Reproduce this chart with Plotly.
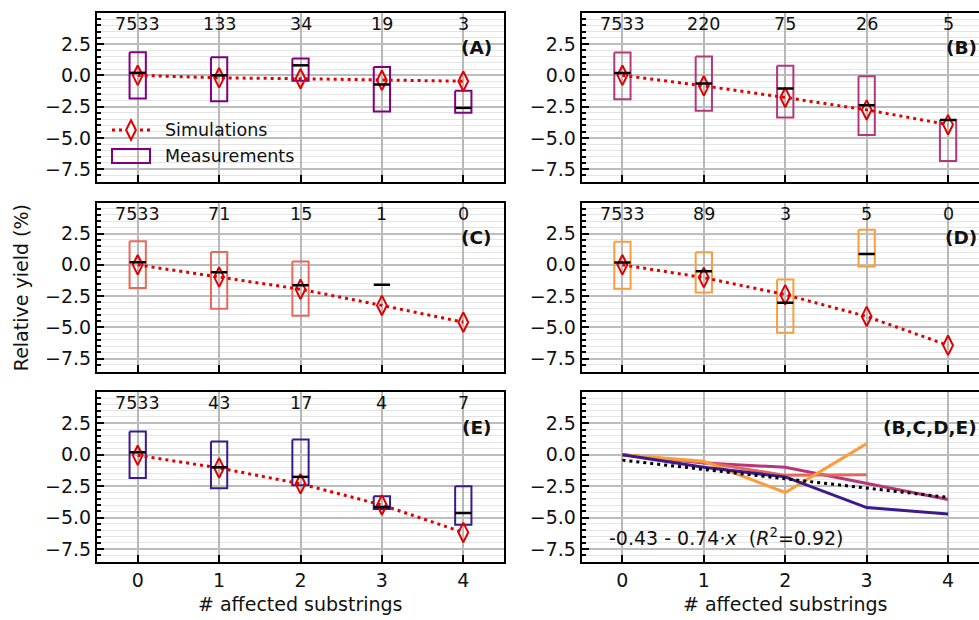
import plotly.graph_objects as go

# ---------------------------------------------------------------- data
x_vals = [0, 1, 2, 3, 4]

# number of strings behind each measurement group
counts_A = [7533, 133, 34, 19, 3]
counts_B = [7533, 220, 75, 26, 5]
counts_C = [7533, 71, 15, 1, 0]
counts_D = [7533, 89, 3, 5, 0]
counts_E = [7533, 43, 17, 4, 7]

# measured relative yield: upper / lower quartile and median (%)
q_hi_A = [1.85, 1.45, 1.34, 0.67, -1.24]
q_lo_A = [-1.85, -2.07, -0.43, -2.88, -2.98]
med_A = [0.20, 0.00, 0.80, -0.73, -2.60]

q_hi_B = [1.82, 1.50, 0.76, -0.08, -3.56]
q_lo_B = [-1.90, -2.83, -3.37, -4.76, -6.85]
med_B = [0.19, -0.65, -1.06, -2.39, -3.56]

q_hi_C = [1.88, 1.02, 0.27, None, None]
q_lo_C = [-1.85, -3.50, -4.06, None, None]
med_C = [0.20, -0.60, -1.64, -1.59, None]

q_hi_D = [1.85, 1.00, -1.17, 2.80, None]
q_lo_D = [-1.90, -2.20, -5.43, -0.14, None]
med_D = [0.19, -0.52, -3.02, 0.87, None]

q_hi_E = [1.84, 1.04, 1.20, -3.30, -2.50]
q_lo_E = [-1.84, -2.66, -2.42, -4.31, -5.56]
med_E = [0.19, -1.00, -1.76, -4.15, -4.63]

# simulated relative yield (%)
sim_A = [0.00, -0.20, -0.27, -0.40, -0.47]
sim_B = [0.00, -0.84, -1.77, -2.76, -3.94]
sim_C = [0.00, -0.98, -1.95, -3.24, -4.58]
sim_D = [0.00, -1.02, -2.38, -4.12, -6.43]
sim_E = [-0.05, -1.05, -2.31, -3.99, -6.17]

# median trends of the B..E groups, first point pinned to zero
trend_B = [0.00, -0.65, -1.00, -2.30, -3.55]
trend_C = [0.00, -0.60, -1.64, -1.59, None]
trend_D = [0.00, -0.52, -3.00, 0.88, None]
trend_E = [0.00, -1.00, -1.76, -4.20, -4.70]

# linear fit across B..E
fit_intercept = -0.43
fit_slope = -0.74
fit_r2 = 0.92

y_ticks = [-7.5, -5.0, -2.5, 0.0, 2.5]

# ---------------------------------------------------------------- style
FONT = "DejaVu Sans"
SIM_RED = "#e00000"
col_A = "#800080"
col_B = "#b5367a"
col_C = "#e6695b"
col_D = "#fa9d3a"
col_E = "#3b1a8c"
BW = 0.1  # half-width of a box

W, H = 979, 620
ML, MR, MT, MB = 97, 0, 13, 58
PW, PH = W - ML - MR, H - MT - MB

row_px = [(0, 169), (189.5, 358.5), (379, 549)]  # from top of plot area
y_dom = [[(PH - b) / PH, (PH - t) / PH] for t, b in row_px]
y_dom = [[max(0, a), min(1, b)] for a, b in y_dom]
x_dom = [[0, 407 / PW], [484.7 / PW, 1]]

fig = go.Figure()

panels = [
    ("(A)", counts_A, q_hi_A, q_lo_A, med_A, sim_A, col_A),
    ("(B)", counts_B, q_hi_B, q_lo_B, med_B, sim_B, col_B),
    ("(C)", counts_C, q_hi_C, q_lo_C, med_C, sim_C, col_C),
    ("(D)", counts_D, q_hi_D, q_lo_D, med_D, sim_D, col_D),
    ("(E)", counts_E, q_hi_E, q_lo_E, med_E, sim_E, col_E),
]


def axis_names(i):
    n = "" if i == 1 else str(i)
    return "x" + n, "y" + n, "xaxis" + n, "yaxis" + n


def style_axes(i, col, row):
    xr, yr, xa, ya = axis_names(i)
    left = col == 0
    bottom = row == 2
    fig.layout[xa] = dict(
        domain=x_dom[col], anchor=yr,
        range=[-0.5, 4.5 if left else 4.38],
        tickmode="array", tickvals=x_vals,
        ticks="inside", ticklen=7, tickwidth=1.5, tickcolor="black",
        showline=True, linecolor="black", linewidth=2, mirror=True,
        showgrid=True, gridcolor="#b8b8b8", gridwidth=1.5,
        zeroline=False, showticklabels=bottom,
        tickfont=dict(family=FONT, size=19, color="#111"),
    )
    fig.layout[ya] = dict(
        domain=y_dom[row], anchor=xr,
        range=[-8.52, 4.98],
        tickmode="linear", tick0=0, dtick=2.5, tickformat=".1f",
        ticks="inside", ticklen=7, tickwidth=1.5, tickcolor="black",
        showline=True, linecolor="black", linewidth=2, mirror=left,
        showgrid=True, gridcolor="#bdbdbd", gridwidth=1.5,
        zeroline=False,
        minor=dict(dtick=0.5, tick0=0, ticks="inside", ticklen=4,
                   tickcolor="black", showgrid=True,
                   gridcolor="#e4e4e4", gridwidth=1),
        tickfont=dict(family=FONT, size=19, color="#111"),
    )


annotations = []

for k, (label, counts, hi, lo, med, sim, color) in enumerate(panels):
    i = k + 1
    row, col = divmod(k, 2)
    style_axes(i, col, row)
    xr, yr, _, _ = axis_names(i)

    # inter-quartile boxes
    bx, by = [], []
    for x, h, l in zip(x_vals, hi, lo):
        if h is None or l is None:
            continue
        bx += [x - BW, x + BW, x + BW, x - BW, x - BW, None]
        by += [h, h, l, l, h, None]
    fig.add_trace(go.Scatter(x=bx, y=by, mode="lines", xaxis=xr, yaxis=yr,
                             line=dict(color=color, width=2),
                             showlegend=False, hoverinfo="skip"))

    # simulations
    fig.add_trace(go.Scatter(
        x=x_vals, y=sim, mode="lines+markers", xaxis=xr, yaxis=yr,
        line=dict(color=SIM_RED, width=3, dash="3px,4px"),
        marker=dict(symbol="diamond-tall-open", size=14, color=SIM_RED,
                    line=dict(width=2, color=SIM_RED)),
        showlegend=False))

    # medians
    mx, my = [], []
    for x, m in zip(x_vals, med):
        if m is None:
            continue
        mx += [x - BW, x + BW, None]
        my += [m, m, None]
    fig.add_trace(go.Scatter(x=mx, y=my, mode="lines", xaxis=xr, yaxis=yr,
                             line=dict(color="black", width=2.5),
                             showlegend=False, hoverinfo="skip"))

    # group sizes along the top
    for x, c in zip(x_vals, counts):
        annotations.append(dict(x=x, y=4.1, xref=xr, yref=yr, text=str(c),
                                showarrow=False, xanchor="center",
                                yanchor="middle",
                                font=dict(family=FONT, size=17.5, color="#111")))
    annotations.append(dict(x=4.38, y=2.2, xref=xr, yref=yr,
                            text="<b>%s</b>" % label, showarrow=False,
                            xanchor="right", yanchor="middle",
                            font=dict(family=FONT, size=18.5, color="#111")))

# ---------------------------------------------------------------- panel F
style_axes(6, 1, 2)
for tr, color in [(trend_B, col_B), (trend_C, col_C),
                  (trend_D, col_D), (trend_E, col_E)]:
    fig.add_trace(go.Scatter(x=x_vals, y=tr, mode="lines", xaxis="x6",
                             yaxis="y6", line=dict(color=color, width=3),
                             connectgaps=False, showlegend=False))

fit_x = [x_vals[0], x_vals[-1]]
fit_y = [fit_intercept + fit_slope * x for x in fit_x]
fig.add_trace(go.Scatter(x=fit_x, y=fit_y, mode="lines", xaxis="x6",
                         yaxis="y6",
                         line=dict(color="black", width=3, dash="3px,4px"),
                         showlegend=False))

annotations.append(dict(x=4.38, y=2.2, xref="x6", yref="y6",
                        text="<b>(B,C,D,E)</b>", showarrow=False,
                        xanchor="right", yanchor="middle",
                        font=dict(family=FONT, size=18.5, color="#111")))
annotations.append(dict(
    x=-0.19, y=-6.5, xref="x6", yref="y6", showarrow=False,
    xanchor="left", yanchor="middle",
    text="%.2f - %.2f\u22c5<i>x</i>  (<i>R</i><sup>2</sup>=%.2f)"
         % (fit_intercept, abs(fit_slope), fit_r2),
    font=dict(family=FONT, size=19, color="#111")))

# ---------------------------------------------------------------- titles
annotations.append(dict(x=-76.3 / PW, y=0.5, xref="paper", yref="paper",
                        text="Relative yield (%)", textangle=-90,
                        showarrow=False, xanchor="center", yanchor="middle",
                        font=dict(family=FONT, size=19, color="#111")))
for xr in ["x5", "x6"]:
    annotations.append(dict(x=2, y=-42 / PH, xref=xr, yref="paper",
                            text="# affected substrings", showarrow=False,
                            xanchor="center", yanchor="middle",
                            font=dict(family=FONT, size=19, color="#111")))

# ---------------------------------------------------------------- legend (panel A)
leg_x = 34 / 407
leg_y1 = 52 / 169
leg_y2 = 26 / 169
shapes = [
    dict(type="line", xref="x domain", yref="y domain",
         xsizemode="pixel", ysizemode="pixel", xanchor=leg_x, yanchor=leg_y1,
         x0=-19, x1=19, y0=0, y1=0,
         line=dict(color=SIM_RED, width=3, dash="3px,4px")),
    dict(type="path", xref="x domain", yref="y domain",
         xsizemode="pixel", ysizemode="pixel", xanchor=leg_x, yanchor=leg_y1,
         path="M0,9.8 L4.9,0 L0,-9.8 L-4.9,0 Z",
         fillcolor="white", line=dict(color=SIM_RED, width=2)),
    dict(type="rect", xref="x domain", yref="y domain",
         xsizemode="pixel", ysizemode="pixel", xanchor=leg_x, yanchor=leg_y2,
         x0=-19, x1=19, y0=-7, y1=7,
         line=dict(color=col_A, width=2)),
]
for txt, yy in [("Simulations", leg_y1), ("Measurements", leg_y2)]:
    annotations.append(dict(x=66 / 407, y=yy, xref="x domain",
                            yref="y domain", text=txt, showarrow=False,
                            xanchor="left", yanchor="middle",
                            font=dict(family=FONT, size=17.5, color="#111")))

fig.update_layout(
    width=W, height=H,
    margin=dict(l=ML, r=MR, t=MT, b=MB),
    paper_bgcolor="white", plot_bgcolor="white",
    showlegend=False,
    annotations=annotations, shapes=shapes,
    font=dict(family=FONT, size=19, color="#111"),
)

fig.write_html("out.html")
